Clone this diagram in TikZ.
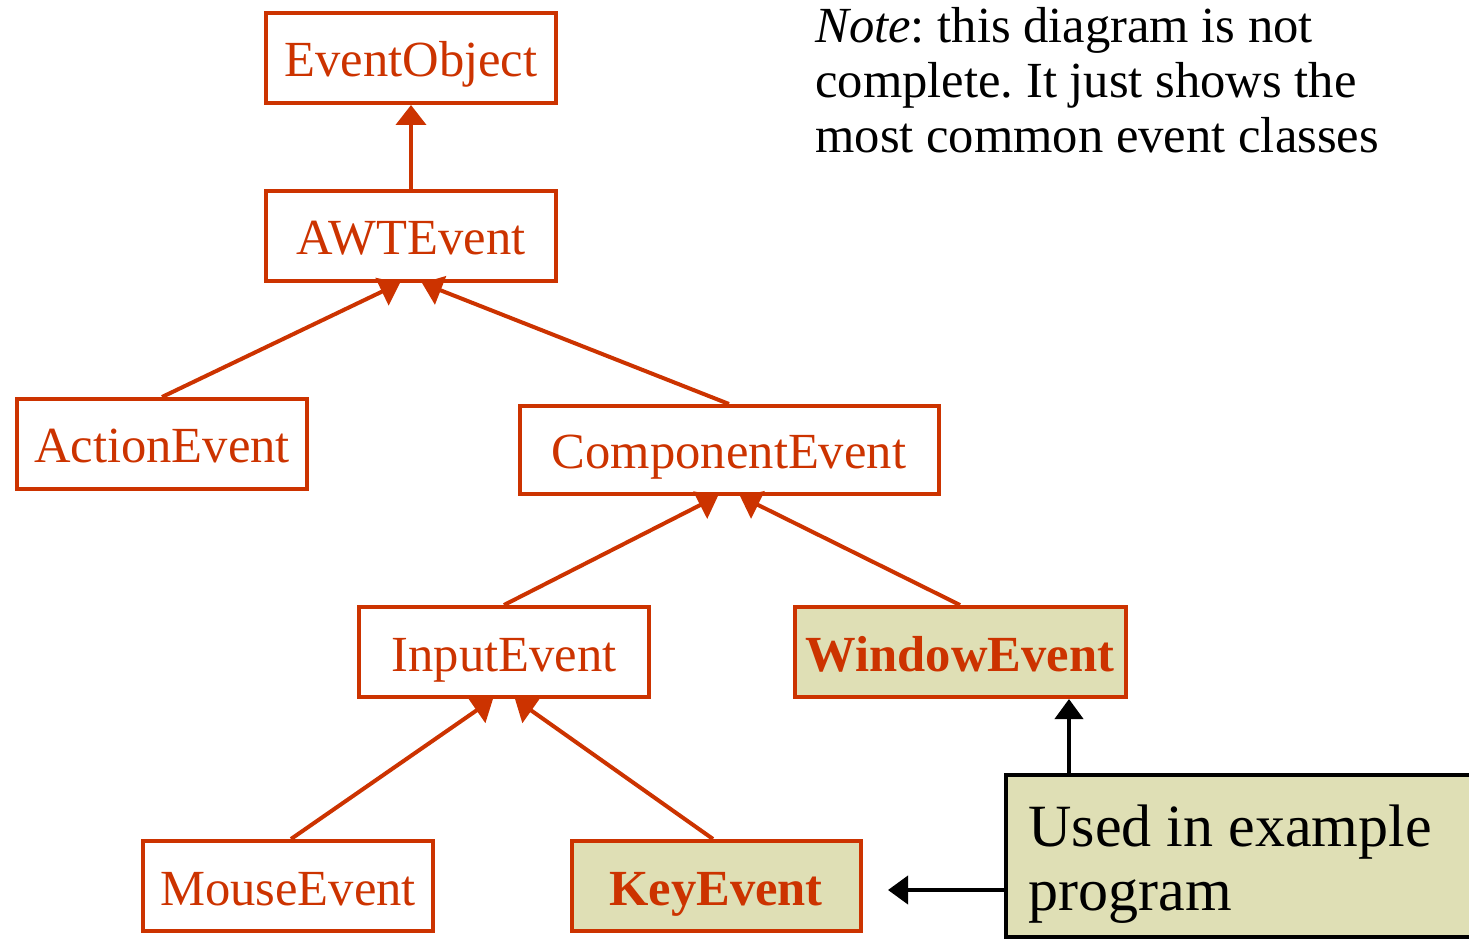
\documentclass[tikz,border=0pt]{standalone}
\usepackage{fontspec}
\setmainfont{Liberation Serif}
\usetikzlibrary{arrows.meta,calc}
\frenchspacing
\definecolor{cls}{RGB}{204,51,0}
\definecolor{khaki}{RGB}{223,223,181}
\tikzset{
  cbox/.style={draw=cls, line width=2pt, text=cls, inner sep=0pt,
    minimum height=45pt, text height=19pt, text depth=0pt,
    font=\fontsize{25.3}{28}\selectfont},
  used/.style={cbox, fill=khaki, font=\fontsize{25.3}{28}\selectfont\bfseries},
  inh/.style={draw=cls, line width=2pt, -{Triangle[width=15pt,length=10pt]}},
  ptr/.style={draw=black, line width=2pt, -{Triangle[width=14pt,length=10pt]}},
  notebox/.style={draw=black, line width=2pt, fill=khaki, inner sep=0pt}
}
\begin{document}
\begin{tikzpicture}[x=0.5pt,y=-0.5pt]
\useasboundingbox (0,0) rectangle (1469,941);
\node[cbox, minimum width=145pt] (eo) at (411,58) {EventObject};
\node[cbox, minimum width=145pt] (awt) at (411,236) {AWTEvent};
\node[cbox, minimum width=145pt] (act) at (162,444) {ActionEvent};
\node[cbox, minimum width=209.5pt, minimum height=44pt] (comp) at (729,450) {ComponentEvent};
\node[cbox, minimum width=145pt] (inp) at (504,652) {InputEvent};
\node[used, minimum width=165.5pt] (win) at (960,652) {WindowEvent};
\node[cbox, minimum width=145pt] (mouse) at (288,886) {MouseEvent};
\node[used, minimum width=144.5pt] (key) at (716,886) {KeyEvent};

\node[notebox, minimum width=237pt, minimum height=81pt] (ex) at (1243,856) {};
\node[anchor=base west, align=left, inner sep=0pt, font=\fontsize{30}{32}\selectfont] (extext) at (1028,910) {Used in example\\program};

\node[anchor=base west, align=left, inner sep=0pt, font=\fontsize{25.3}{27.5}\selectfont] (note) at (815,153)
  {\textit{Note}: this diagram is not\\complete. It just shows the\\most common event classes};

\draw[inh] (awt.north) -- (eo.south);
\draw[inh] (act.north) -- ([xshift=-5.5pt]awt.south);
\draw[inh] (comp.north) -- ([xshift=5.5pt]awt.south);
\draw[inh] (inp.north) -- ([xshift=-5.5pt]comp.south);
\draw[inh] (win.north) -- ([xshift=5.5pt]comp.south);
\draw[inh] ([xshift=1.5pt]mouse.north) -- ([xshift=-5.5pt]inp.south);
\draw[inh] ([xshift=-1.5pt]key.north) -- ([xshift=5.5pt]inp.south);

\coordinate (upt) at (1069,775);
\draw[ptr] (upt) -- (upt |- win.south);
\coordinate (tip) at (888,890);
\draw[ptr] (ex.west |- tip) -- (tip);
\end{tikzpicture}
\end{document}
